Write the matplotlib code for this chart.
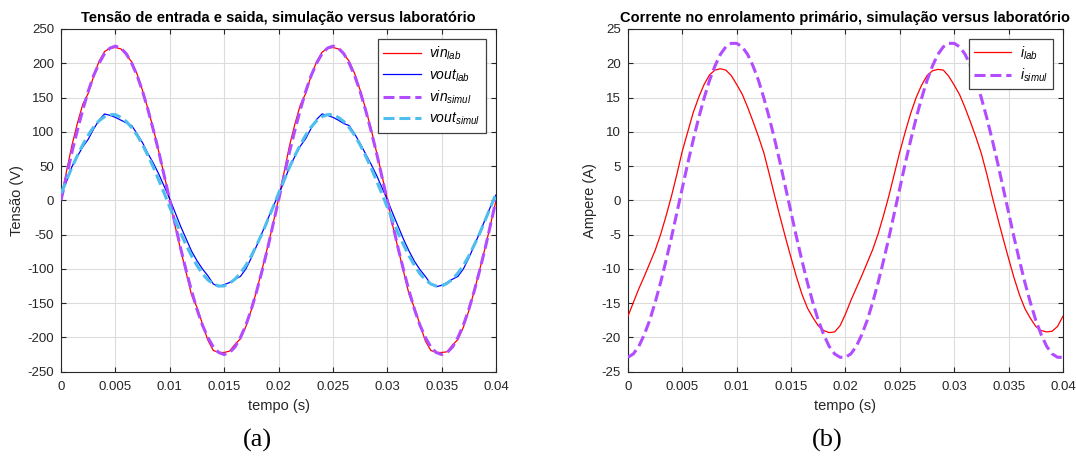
import numpy as np
import matplotlib
matplotlib.use("Agg")
import matplotlib.pyplot as plt

plt.rcParams['font.family'] = ['Liberation Sans', 'DejaVu Sans']
plt.rcParams['mathtext.fontset'] = 'custom'
plt.rcParams['mathtext.it'] = 'Liberation Sans:italic'
plt.rcParams['mathtext.rm'] = 'Liberation Sans'
plt.rcParams['axes.unicode_minus'] = False

# amostras a cada 0.5 ms, 0 a 40 ms
tempo = np.round(np.arange(81) * 0.0005, 4)

# tensao de entrada / saida (V)
vin_lab = [2, 42, 80, 112, 140, 156, 181, 203, 217, 222, 223, 221, 212, 202, 184, 160, 133, 104, 70, 36,
           1, -38, -72, -105, -138, -156, -180, -204, -219, -222, -222, -220, -210, -202, -184, -160, -131, -100, -68, -34,
           2, 40, 79, 111, 139, 156, 182, 202, 216, 222, 223, 221, 213, 203, 185, 161, 134, 105, 71, 37,
           2, -37, -71, -104, -137, -157, -181, -205, -219, -222, -222, -221, -211, -203, -185, -161, -132, -101, -69, -35,
           0]
vout_lab = [8, 27, 49, 64, 78, 89, 104, 117, 126, 124, 121, 117, 113, 109, 97, 84, 68, 54, 38, 20,
            2, -18, -38, -56, -74, -88, -100, -110, -122, -126, -123, -120, -115, -111, -100, -84, -66, -47, -28, -9,
            8, 27, 48, 64, 79, 90, 105, 118, 126, 124, 121, 117, 112, 109, 97, 83, 68, 53, 37, 19,
            1, -19, -38, -57, -74, -89, -101, -111, -122, -126, -124, -120, -115, -111, -100, -84, -66, -47, -28, -9,
            8]
vin_simul = [0, 35, 70, 102, 132, 159, 182, 200, 214, 222, 225, 222, 214, 200, 182, 159, 132, 102, 70, 35,
             0, -35, -70, -102, -132, -159, -182, -200, -214, -222, -225, -222, -214, -200, -182, -159, -132, -102, -70, -35,
             0, 35, 70, 102, 132, 159, 182, 200, 214, 222, 225, 222, 214, 200, 182, 159, 132, 102, 70, 35,
             0, -35, -70, -102, -132, -159, -182, -200, -214, -222, -225, -222, -214, -200, -182, -159, -132, -102, -70, -35,
             0]
vout_simul = [10, 29, 48, 65, 81, 95, 107, 116, 122, 125, 125, 121, 115, 106, 95, 81, 65, 48, 29, 10,
              -10, -29, -48, -65, -81, -95, -107, -116, -122, -125, -125, -121, -115, -106, -95, -81, -65, -48, -29, -10,
              10, 29, 48, 65, 81, 95, 107, 116, 122, 125, 125, 121, 115, 106, 95, 81, 65, 48, 29, 10,
              -10, -29, -48, -65, -81, -95, -107, -116, -122, -125, -125, -121, -115, -106, -95, -81, -65, -48, -29, -10,
              10]

# corrente no primario (A)
i_lab = [-16.9, -14.9, -12.9, -11.1, -9.2, -7.3, -5.0, -2.3, 0.6, 3.8, 7.2, 10.0, 12.8, 15.0, 16.9, 18.3, 19.0, 19.2, 19.0, 18.2,
         16.9, 15.5, 13.6, 11.5, 9.3, 6.9, 3.8, 0.6, -2.5, -5.5, -8.4, -11.2, -13.7, -15.7, -17.1, -18.3, -19.0, -19.3, -19.2, -18.3,
         -16.6, -14.6, -12.8, -11.0, -9.1, -7.2, -4.9, -2.2, 0.7, 3.9, 7.1, 10.0, 12.7, 15.0, 16.8, 18.2, 18.9, 19.1, 19.0, 18.1,
         16.8, 15.4, 13.5, 11.4, 9.2, 6.8, 3.8, 0.5, -2.6, -5.6, -8.5, -11.3, -13.8, -15.8, -17.2, -18.4, -19.0, -19.2, -19.1, -18.4,
         -16.9]
i_simul = [-22.9, -22.4, -21.3, -19.6, -17.5, -14.9, -12.0, -8.8, -5.4, -1.8, 1.8, 5.4, 8.8, 12.0, 14.9, 17.5, 19.6, 21.3, 22.4, 22.9,
           22.9, 22.4, 21.3, 19.6, 17.5, 14.9, 12.0, 8.8, 5.4, 1.8, -1.8, -5.4, -8.8, -12.0, -14.9, -17.5, -19.6, -21.3, -22.4, -22.9,
           -22.9, -22.4, -21.3, -19.6, -17.5, -14.9, -12.0, -8.8, -5.4, -1.8, 1.8, 5.4, 8.8, 12.0, 14.9, 17.5, 19.6, 21.3, 22.4, 22.9,
           22.9, 22.4, 21.3, 19.6, 17.5, 14.9, 12.0, 8.8, 5.4, 1.8, -1.8, -5.4, -8.8, -12.0, -14.9, -17.5, -19.6, -21.3, -22.4, -22.9,
           -22.9]

x_ticks = [0, 0.005, 0.01, 0.015, 0.02, 0.025, 0.03, 0.035, 0.04]
x_ticklabels = ['0', '0.005', '0.01', '0.015', '0.02', '0.025', '0.03', '0.035', '0.04']

TXT = '#262626'
ROXO = '#b24cff'
CIANO = '#4dbeee'
dash = (3.6, 1.6)


def estilo_matlab(ax, ylim, yticks, titulo, ylabel, ylabel_x):
    ax.set_xlim(0, 0.04)
    ax.set_ylim(*ylim)
    ax.set_xticks(x_ticks)
    ax.set_xticklabels(x_ticklabels)
    ax.set_yticks(yticks)
    ax.grid(True, color='#dcdcdc', linewidth=0.8)
    ax.set_axisbelow(True)
    ax.tick_params(direction='in', top=True, right=True, length=3.5, width=0.8,
                   colors=TXT, labelsize=9.5)
    ax.tick_params(axis='x', pad=7)
    ax.tick_params(axis='y', pad=5)
    for s in ax.spines.values():
        s.set_color(TXT)
        s.set_linewidth(0.8)
    ax.set_title(titulo, fontsize=10.5, fontweight='bold', color='black', pad=5)
    ax.set_xlabel('tempo (s)', fontsize=10.5, color=TXT)
    ax.set_ylabel(ylabel, fontsize=10.5, color=TXT)
    ax.xaxis.set_label_coords(0.5, -0.080)
    ax.yaxis.set_label_coords(ylabel_x, 0.5)


fig = plt.figure(figsize=(10.76, 4.57), dpi=100)
ax1 = fig.add_axes([0.0567, 0.1867, 0.4043, 0.7499])
ax2 = fig.add_axes([0.5836, 0.1867, 0.4043, 0.7499])

## (a) tensoes
ax1.plot(tempo, vin_lab, color='#ff0000', linewidth=0.9, label=r'$\mathit{vin}_{\mathit{lab}}$', zorder=3)
ax1.plot(tempo, vout_lab, color='#0000ff', linewidth=0.9, label=r'$\mathit{vout}_{\mathit{lab}}$', zorder=3)
ax1.plot(tempo, vin_simul, color=ROXO, linewidth=2.2, dashes=dash, dash_capstyle='butt',
         label=r'$\mathit{vin}_{\mathit{simul}}$', zorder=4)
ax1.plot(tempo, vout_simul, color=CIANO, linewidth=2.2, dashes=dash, dash_capstyle='butt',
         label=r'$\mathit{vout}_{\mathit{simul}}$', zorder=4)
estilo_matlab(ax1, (-250, 250), np.arange(-250, 251, 50),
              'Tensão de entrada e saida, simulação versus laboratório', 'Tensão (V)', -0.085)
leg1 = ax1.legend(loc='upper right', fontsize=10, handlelength=2.7, borderaxespad=0.75,
                  labelspacing=0.35, fancybox=False, framealpha=1, edgecolor='#404040',
                  borderpad=0.4, handletextpad=0.6)
leg1.get_frame().set_linewidth(0.9)

## (b) corrente
ax2.plot(tempo, i_lab, color='#ff0000', linewidth=0.9, label=r'$\mathit{i}_{\mathit{lab}}$', zorder=3)
ax2.plot(tempo, i_simul, color=ROXO, linewidth=2.2, dashes=dash, dash_capstyle='butt',
         label=r'$\mathit{i}_{\mathit{simul}}$', zorder=4)
estilo_matlab(ax2, (-25, 25), np.arange(-25, 26, 5),
              'Corrente no enrolamento primário, simulação versus laboratório', 'Ampere (A)', -0.071)
leg2 = ax2.legend(loc='upper right', fontsize=10, handlelength=2.7, borderaxespad=0.75,
                  labelspacing=0.35, fancybox=False, framealpha=1, edgecolor='#404040',
                  borderpad=0.35, handletextpad=0.6)
leg2.get_frame().set_linewidth(0.9)

fig.text(257 / 1076, 1 - 440 / 457, '(a)', family='Liberation Serif', fontsize=19,
         ha='center', va='center', color='black')
fig.text(827 / 1076, 1 - 440 / 457, '(b)', family='Liberation Serif', fontsize=19,
         ha='center', va='center', color='black')

fig.savefig('out.png', dpi=100, facecolor='white')
